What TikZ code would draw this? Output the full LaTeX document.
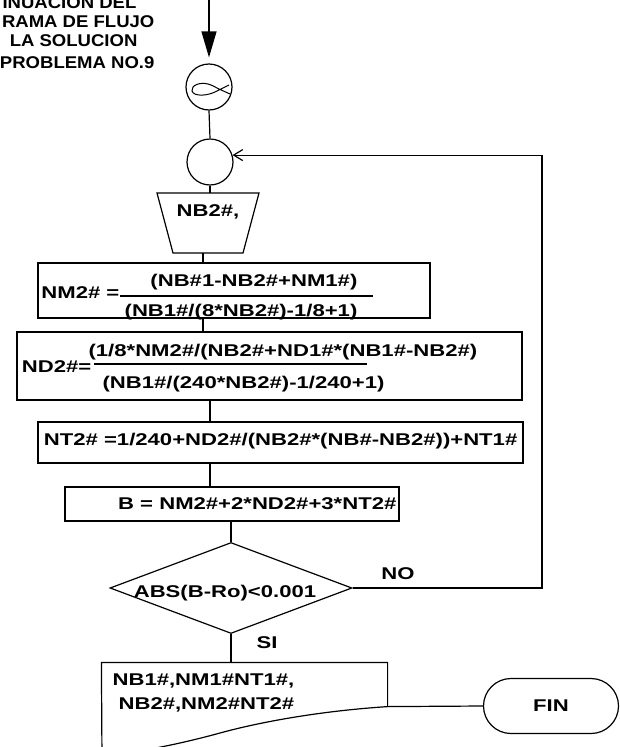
\documentclass[tikz,border=0pt]{standalone}
\usepackage{fontspec}
\setmainfont{Liberation Sans}[FakeStretch=1.3]
\newfontfamily\titlefam{Liberation Sans}[FakeStretch=1.09]
\usetikzlibrary{shapes.geometric,shapes.misc,arrows.meta}
\newcommand\flowfont{\fontsize{17}{20}\selectfont\bfseries}
\newcommand\ttlfont{\titlefam\fontsize{17}{20}\selectfont\bfseries}
\begin{document}
\begin{tikzpicture}[x=1pt,y=-1pt,line width=1.2pt,
  txt/.style={font=\flowfont,inner sep=0pt,text height=12.4pt,text depth=0pt},
  ttl/.style={font=\ttlfont,inner sep=0pt,text height=12.4pt,text depth=0pt,anchor=east},
  procbox/.style={draw,rectangle,inner sep=0pt},
  conn/.style={circle,draw,minimum size=46pt,inner sep=0pt},
  decis/.style={diamond,draw,inner sep=0pt,minimum width=242pt,minimum height=91pt},
  term/.style={rounded rectangle,draw,inner sep=0pt,minimum width=135pt,minimum height=55pt,font=\flowfont},
  barb/.style={-{Straight Barb[length=9pt,width=11pt]}}]
\useasboundingbox (0,0) rectangle (620,747);
\fill[white] (0,0) rectangle (620,747);

% title
\node[ttl] (t1) at (137,2) {INUACION DEL};
\node[ttl] (t2) at (155,21) {RAMA DE FLUJO};
\node[ttl] (t3) at (138,40) {LA SOLUCION};
\node[ttl] (t4) at (155,62) {PROBLEMA NO.9};

% connectors
\coordinate (entry) at (209,0);
\node[conn] (c1) at (209,87) {};
\node[conn] (c2) at (210,162) {};
\draw[-{Triangle[length=26pt,width=15pt]},shorten >=6pt] (entry) -- (c1.north);
\begin{scope}[shift={(c1.center)},line width=1pt]
  \draw (20,-2) -- (8,4) .. controls (-1,9) and (-15,10) .. (-17,4)
        .. controls (-18,-2) and (-9,-5) .. (-1,-3)
        .. controls (3,-2) and (6,0) .. (10,2) -- (21,7);
\end{scope}
\draw (c1.south) -- (c2.north);

% manual input
\coordinate (trTL) at (157,193);
\coordinate (trTR) at (259,193);
\coordinate (trBR) at (243,253);
\coordinate (trBL) at (173,253);
\coordinate (trB) at (203,253);
\draw (trTL) -- (trTR) -- (trBR) -- (trBL) -- cycle;
\node[txt] (trap) at (208,210) {NB2\#,};
\draw (c2.south) -- (c2.south |- trTL);

% box 1
\node[procbox,minimum width=392pt,minimum height=55pt] (b1) at (234,290.5) {};
\node[txt,anchor=east] (b1l) at (120,292) {NM2\# =};
\node[txt,anchor=east] (b1n) at (358,280) {(NB\#1-NB2\#+NM1\#)};
\node[txt,anchor=east] (b1d) at (358,310) {(NB1\#/(8*NB2\#)-1/8+1)};
\coordinate (b1bl) at (120,296);
\coordinate (b1br) at (373,296);
\draw (b1bl) -- (b1br);
\draw (trB) -- (trB |- b1.north);

% box 2
\node[procbox,minimum width=505pt,minimum height=68pt] (b2) at (269.5,366) {};
\node[txt,anchor=east] (b2l) at (92,366) {ND2\#=};
\node[txt,anchor=west] (b2n) at (88,350) {(1/8*NM2\#/(NB2\#+ND1\#*(NB1\#-NB2\#)};
\node[txt,anchor=west] (b2d) at (102,382) {(NB1\#/(240*NB2\#)-1/240+1)};
\coordinate (b2bl) at (94,364);
\coordinate (b2br) at (367,364);
\draw (b2bl) -- (b2br);
\draw (trB |- b1.south) -- (trB |- b2.north);

% box 3
\node[procbox,minimum width=485pt,minimum height=41pt] (b3) at (280.5,442.5) {};
\node[txt,anchor=east] (b3t) at (518,439) {NT2\# =1/240+ND2\#/(NB2\#*(NB\#-NB2\#))+NT1\#};
\draw (c2.south |- b2.south) -- (c2.south |- b3.north);

% box 4
\node[procbox,minimum width=334pt,minimum height=34pt] (b4) at (232,504) {};
\node[txt,anchor=east] (b4t) at (397,503) {B = NM2\#+2*ND2\#+3*NT2\#};
\draw (c2.south |- b3.south) -- (c2.south |- b4.north);

% decision
\node[decis] (dia) at (231,588) {};
\node[txt] (diat) at (225,591) {ABS(B-Ro)<0.001};
\draw (dia.north |- b4.south) -- (dia.north);
\node[txt] (no) at (398,573) {NO};
\node[txt] (si) at (267,642) {SI};
\coordinate (loopx) at (542,0);
\draw[barb] (dia.east) -- (dia.east -| loopx) |- (c2.17);

% output
\node[inner sep=0pt,minimum width=285pt,minimum height=43pt] (outb) at (244.5,684.5) {};
\coordinate (oBL) at (102,760);
\coordinate (oW1) at (220,733);
\draw (oBL) -- (outb.north west) -- (outb.north east) -- (outb.south east)
      .. controls (320,711) and (260,722) .. (oW1)
      .. controls (180,744) and (140,752) .. (102,756);
\node[txt,anchor=west] (o1) at (112,679) {NB1\#,NM1\#NT1\#,};
\node[txt,anchor=west] (o2) at (118,703) {NB2\#,NM2\#NT2\#};
\draw (dia.south) -- (dia.south |- outb.north);

% end
\node[term] (fin) at (551,706) {FIN};
\draw (outb.south east) -- (fin.west);
\end{tikzpicture}
\end{document}
